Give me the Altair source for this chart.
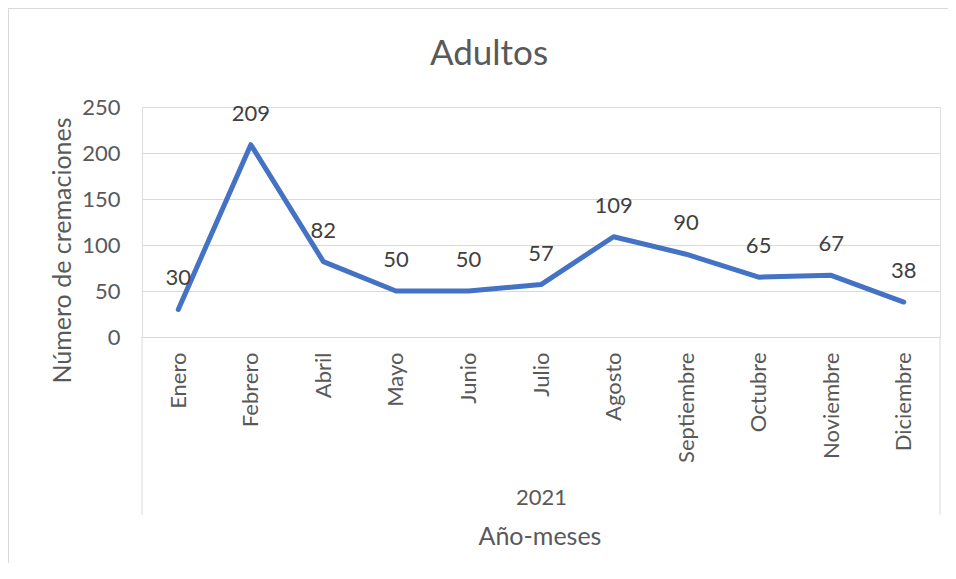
import altair as alt
import pandas as pd

months = ["Enero", "Febrero", "Abril", "Mayo", "Junio", "Julio", "Agosto",
          "Septiembre", "Octubre", "Noviembre", "Diciembre"]
values = [30, 209, 82, 50, 50, 57, 109, 90, 65, 67, 38]
y_ticks = [0, 50, 100, 150, 200, 250]
year_label = "2021"
x_title = "Año-meses"
y_title = "Número de cremaciones"
chart_title = "Adultos"

df = pd.DataFrame({"mes": months, "n": values})

FONT = "Lato"
GREY = "#595959"
GRID = "#D9D9D9"
W, H = 798, 230
PAD = {"left": 134, "top": 99, "right": 8, "bottom": 226}

x = alt.X(
    "mes:N", sort=months,
    scale=alt.Scale(type="point", padding=0.5),
    axis=alt.Axis(
        title=year_label, labelAngle=270, labelAlign="right", labelBaseline="middle",
        labelPadding=15, ticks=False, domainColor=GRID, domainWidth=1,
        labelFont=FONT, labelFontSize=22, labelColor=GREY,
        titleFont=FONT, titleFontSize=22, titleColor=GREY, titleFontWeight="normal",
        titleY=160, titleBaseline="middle",
    ),
)
y = alt.Y(
    "n:Q", scale=alt.Scale(domain=[0, 250], nice=False),
    axis=alt.Axis(
        values=y_ticks, title=y_title, domain=False, ticks=False, labelPadding=22,
        gridColor=GRID, gridWidth=1,
        labelFont=FONT, labelFontSize=22, labelColor=GREY,
        titleFont=FONT, titleFontSize=25, titleColor=GREY, titleFontWeight="normal",
        titleAngle=270, titleX=-80, titleY=143, titleAlign="center", titleBaseline="middle",
    ),
)

base = alt.Chart(df)
line = base.mark_line(color="#4472C4", strokeWidth=5, strokeJoin="round", strokeCap="round").encode(x=x, y=y)
labels = base.mark_text(dy=-31, font=FONT, fontSize=22, color="#404040").encode(
    x=alt.X("mes:N", sort=months), y="n:Q", text="n:Q")

one = pd.DataFrame({"t": [x_title]})
ttl = pd.DataFrame({"t": [chart_title]})
left_rule = alt.Chart(one).mark_rule(color=GRID, strokeWidth=1).encode(
    x=alt.value(0), y=alt.value(H), y2=alt.value(H + 178))
right_rule = alt.Chart(one).mark_rule(color=GRID, strokeWidth=1).encode(
    x=alt.value(W), y=alt.value(H), y2=alt.value(H + 178))
border_top = alt.Chart(one).mark_rule(color=GRID, strokeWidth=1).encode(
    x=alt.value(-134), x2=alt.value(W + 8), y=alt.value(-98.5))
border_left = alt.Chart(one).mark_rule(color=GRID, strokeWidth=1).encode(
    x=alt.value(-133.5), y=alt.value(-99), y2=alt.value(H + 226))
xt = alt.Chart(one).mark_text(font=FONT, fontSize=25, color=GREY, baseline="middle").encode(
    x=alt.value(W / 2 - 1), y=alt.value(430), text="t:N")
title_mark = alt.Chart(ttl).mark_text(font=FONT, fontSize=35, color=GREY, baseline="middle").encode(
    x=alt.value(W / 2 - 52), y=alt.value(-53), text="t:N")

chart = alt.layer(line, labels, left_rule, right_rule, border_top, border_left, xt, title_mark).properties(
    width=W, height=H,
    autosize=alt.AutoSizeParams(type="none"),
    padding=PAD,
).configure_view(stroke=None).configure(background="white")

chart.save("out.html", embed_options={"renderer": "svg", "actions": False})
